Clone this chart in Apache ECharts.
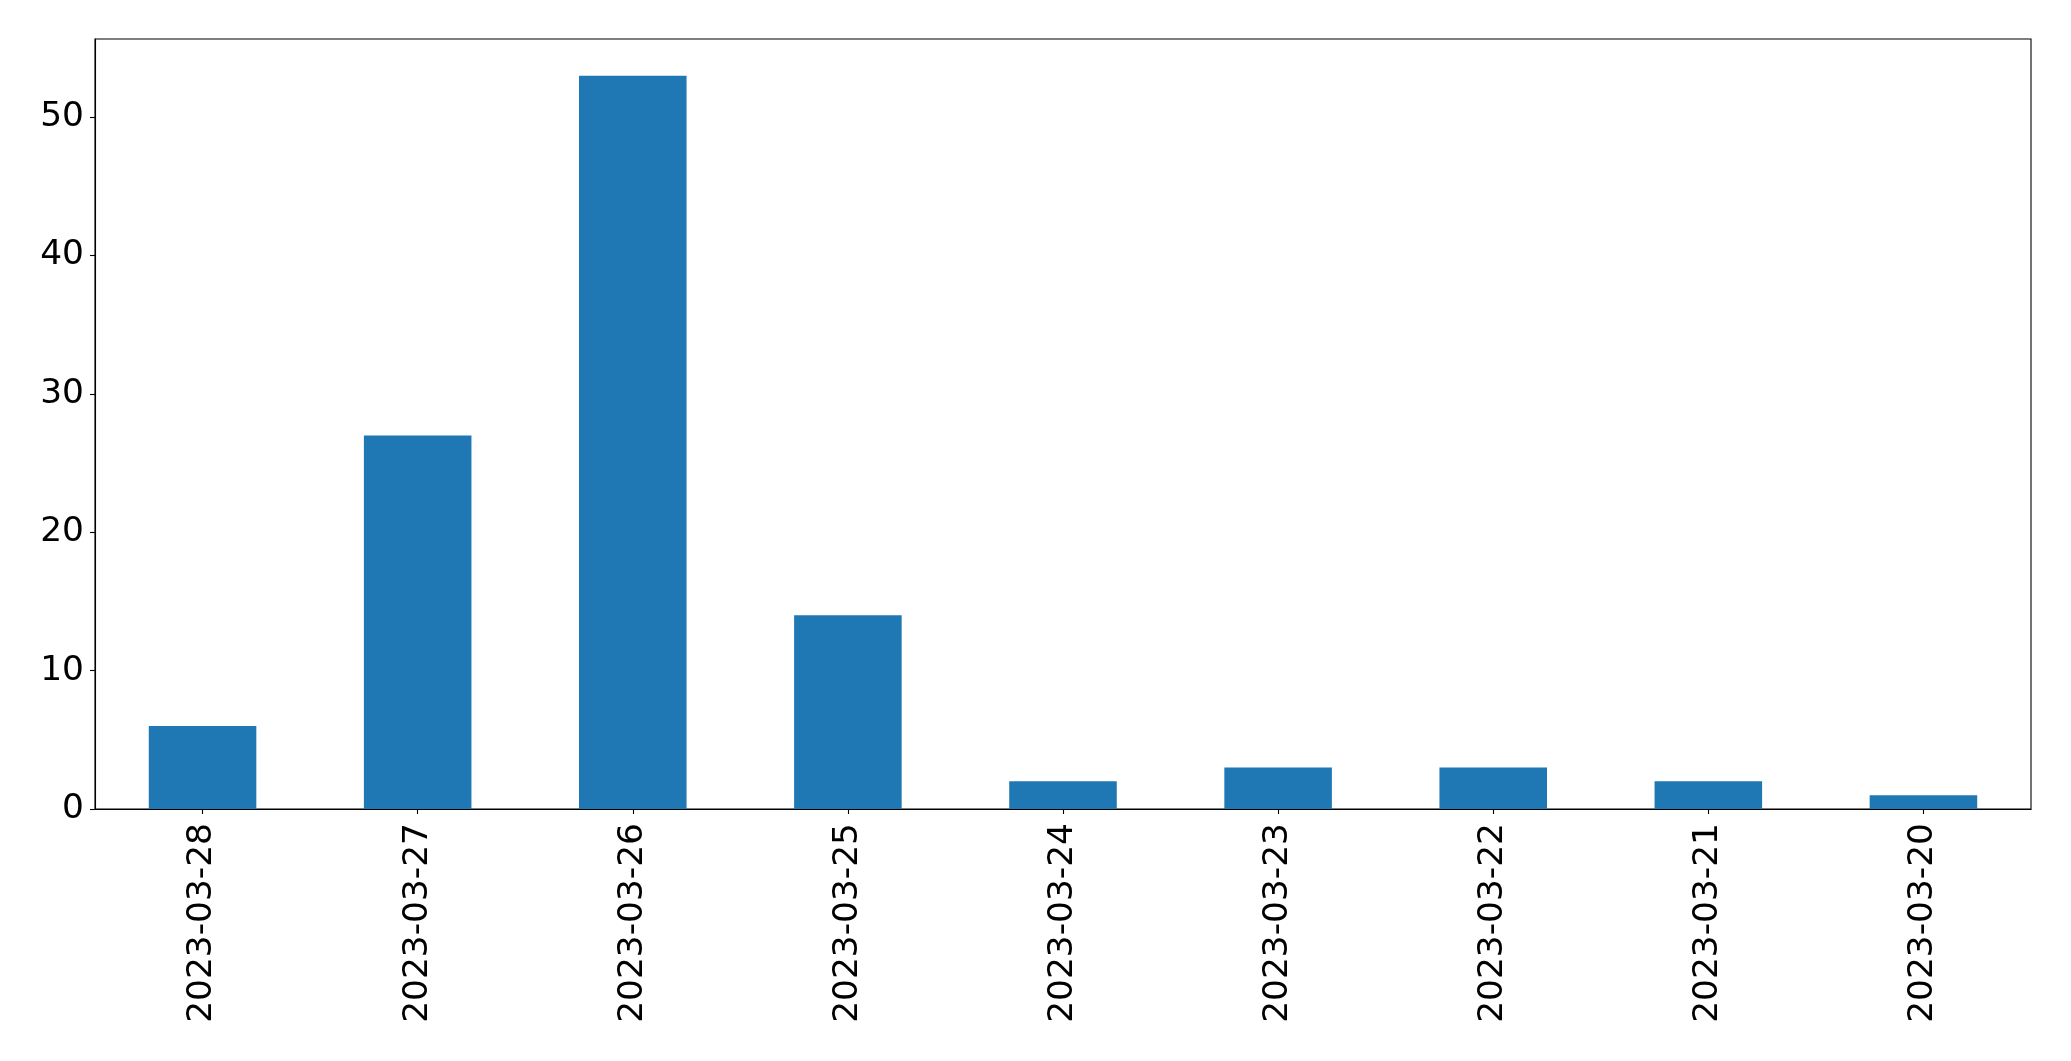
<!DOCTYPE html>
<html>
<head>
<meta charset="utf-8">
<script src="https://cdn.jsdelivr.net/npm/echarts@6/dist/echarts.min.js"></script>
<style>
html,body{margin:0;padding:0;background:#fff;}
#chart{width:2071px;height:1061px;}
</style>
</head>
<body>
<div id="chart"></div>
<script>
const categories = ["2023-03-28","2023-03-27","2023-03-26","2023-03-25","2023-03-24","2023-03-23","2023-03-22","2023-03-21","2023-03-20"];
const values = [6, 27, 53, 14, 2, 3, 3, 2, 1];
const yTicks = [0, 10, 20, 30, 40, 50];

const font = "'DejaVu Sans', sans-serif";
const chart = echarts.init(document.getElementById('chart'), null, {renderer: 'canvas'});
chart.setOption({
  animation: false,
  backgroundColor: '#fff',
  grid: {left: 95, right: 40, top: 39, bottom: 252, show: true, borderColor: '#000', borderWidth: 1.1, backgroundColor: 'transparent'},
  xAxis: {
    type: 'category',
    data: categories,
    boundaryGap: true,
    axisLine: {show: true, lineStyle: {color: '#000', width: 1.1}},
    axisTick: {show: true, alignWithLabel: true, length: 5, lineStyle: {color: '#000', width: 1.1}},
    axisLabel: {rotate: 90, margin: 14, fontSize: 34.4, fontFamily: font, color: '#000', interval: 0},
    splitLine: {show: false}
  },
  yAxis: {
    type: 'value',
    min: 0,
    max: 55.65,
    interval: 10,
    axisLine: {show: true, lineStyle: {color: '#000', width: 1.1}},
    axisTick: {show: true, length: 5, lineStyle: {color: '#000', width: 1.1}, customValues: yTicks},
    axisLabel: {margin: 11, fontSize: 34.4, fontFamily: font, color: '#000', customValues: yTicks},
    splitLine: {show: false}
  },
  series: [{
    type: 'bar',
    data: values,
    barWidth: '50%',
    itemStyle: {color: '#1f77b4'}
  }]
});
</script>
</body>
</html>
